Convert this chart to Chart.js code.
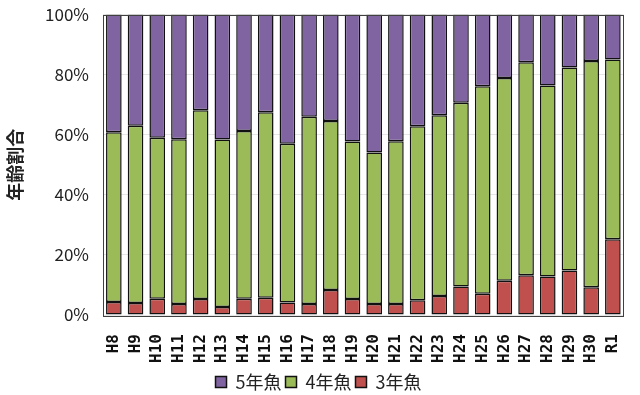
<!DOCTYPE html>
<html>
<head>
<meta charset="utf-8">
<script src="https://cdn.jsdelivr.net/npm/chart.js@4"></script>
<style>
  html, body { margin: 0; padding: 0; background: #fff; }
  #wrap { width: 640px; height: 395px; }
</style>
</head>
<body>
<div id="wrap"><canvas id="ageChart" width="640" height="395"></canvas></div>
<script>
// fiscal years
const years = ['H8','H9','H10','H11','H12','H13','H14','H15','H16','H17','H18','H19',
               'H20','H21','H22','H23','H24','H25','H26','H27','H28','H29','H30','R1'];

// share of each age class (%)
const age3 = [4.3, 4.0, 5.4, 3.7, 5.3, 2.7, 5.4, 5.7, 4.2, 3.7, 8.3, 5.3,
              3.7, 3.7, 4.9, 6.3, 9.5, 7.1, 11.4, 13.2, 12.8, 14.8, 9.2, 25.2];
const age4 = [56.5, 59.0, 53.6, 54.8, 62.8, 55.7, 55.8, 61.8, 52.8, 62.3, 56.3, 52.4,
              50.4, 54.1, 57.9, 60.2, 61.1, 69.0, 67.5, 70.9, 63.6, 67.6, 75.3, 59.8];
const age5 = years.map((y, i) => +(100 - age3[i] - age4[i]).toFixed(1));

const yTicks = [0, 20, 40, 60, 80, 100];

const FONT = '"Noto Sans CJK JP", "Noto Sans", sans-serif';

// box around the plot area, like the excel original
const frame = {
    id: 'frame',
    afterDatasetsDraw(chart) {
        const a = chart.chartArea;
        const c = chart.ctx;
        c.save();
        c.strokeStyle = '#404040';
        c.lineWidth = 1;
        c.strokeRect(Math.round(a.left) + 0.5, Math.round(a.top) + 0.5,
                     Math.round(a.right - a.left) - 1, Math.round(a.bottom - a.top));
        c.restore();
    }
};

new Chart(document.getElementById('ageChart'), {
    type: 'bar',
    data: {
        labels: years,
        datasets: [
            { label: '3年魚', data: age3, backgroundColor: '#C0504D' },
            { label: '4年魚', data: age4, backgroundColor: '#9BBB59' },
            { label: '5年魚', data: age5, backgroundColor: '#8064A2' }
        ].map(d => Object.assign(d, {
            borderColor: '#111',
            borderWidth: 1.5,
            borderSkipped: false,
            categoryPercentage: 1,
            barPercentage: 0.72
        }))
    },
    options: {
        responsive: false,
        animation: false,
        layout: { padding: { left: 4, right: 7, top: 0, bottom: -6 } },
        scales: {
            x: {
                stacked: true,
                grid: { display: false },
                border: { display: false },
                afterFit(scale) {
                    scale.height = 54;
                },
                ticks: {
                    color: '#111',
                    font: { family: '"DejaVu Sans Mono", monospace', size: 16, weight: 'bold', lineHeight: 1 },
                    autoSkip: false,
                    maxRotation: 90,
                    minRotation: 90,
                    padding: 11
                }
            },
            y: {
                stacked: true,
                min: 0,
                max: 100,
                afterBuildTicks(scale) {
                    scale.ticks = yTicks.map(v => ({ value: v }));
                },
                afterFit(scale) {
                    scale.width = 99;
                },
                // invisible tick marks only push the labels away from the plot
                grid: { color: '#e6e6e6', drawTicks: true, tickLength: 8, tickColor: 'rgba(0,0,0,0)' },
                border: { display: false },
                ticks: {
                    color: '#222',
                    font: { family: FONT, size: 17, lineHeight: 1 },
                    padding: 6,
                    callback: v => v + '%'
                },
                title: {
                    display: true,
                    text: '年齢割合',
                    color: '#222',
                    font: { family: FONT, size: 18, weight: 'bold' },
                    padding: { top: 0, bottom: 0 }
                }
            }
        },
        plugins: {
            legend: {
                position: 'bottom',
                reverse: true,
                labels: {
                    color: '#222',
                    font: { family: FONT, size: 18, lineHeight: 1 },
                    boxWidth: 11,
                    boxHeight: 11,
                    padding: 4
                }
            },
            tooltip: { enabled: false }
        }
    },
    plugins: [frame]
});
</script>
</body>
</html>
